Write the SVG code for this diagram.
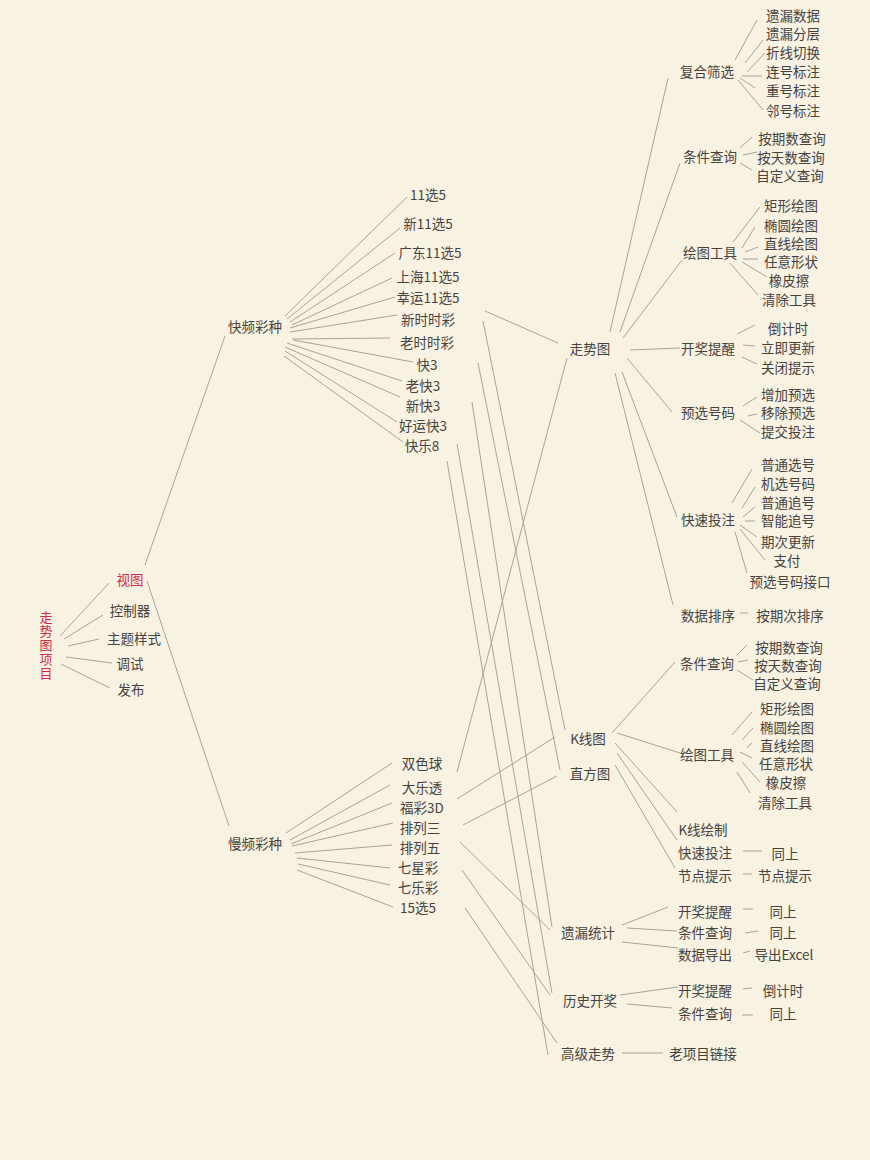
<svg xmlns="http://www.w3.org/2000/svg" width="870" height="1160" viewBox="0 0 870 1160">
<style>
text{font-family:"Noto Sans CJK SC","Liberation Sans",sans-serif;font-size:13.5px;fill:#46433f;text-anchor:middle;dominant-baseline:central}
text.r{fill:#d22a4e}
text.v{writing-mode:vertical-rl;text-anchor:start;letter-spacing:1px;font-size:13px}
#connectors line{stroke:#a7a399;stroke-width:1;fill:none}
</style>
<rect x="0" y="0" width="870" height="1160" fill="#f8f2e3"/>
<g id="connectors">
<line x1="60" y1="636" x2="109" y2="583"/>
<line x1="64" y1="639" x2="103" y2="615"/>
<line x1="68" y1="646" x2="99" y2="639"/>
<line x1="66" y1="657" x2="112" y2="663"/>
<line x1="61" y1="664" x2="110" y2="688"/>
<line x1="145" y1="565" x2="225" y2="336"/>
<line x1="147" y1="581" x2="229" y2="826"/>
<line x1="285" y1="316" x2="407" y2="197"/>
<line x1="287" y1="319" x2="400" y2="228"/>
<line x1="290" y1="322" x2="395" y2="253"/>
<line x1="292" y1="325" x2="392" y2="278"/>
<line x1="290" y1="328" x2="395" y2="297"/>
<line x1="290" y1="332" x2="397" y2="315"/>
<line x1="292" y1="339" x2="390" y2="338"/>
<line x1="293" y1="340" x2="413" y2="362"/>
<line x1="287" y1="343" x2="402" y2="381"/>
<line x1="285" y1="347" x2="400" y2="397"/>
<line x1="285" y1="351" x2="397" y2="422"/>
<line x1="284" y1="356" x2="403" y2="442"/>
<line x1="286" y1="833" x2="392" y2="763"/>
<line x1="290" y1="840" x2="390" y2="785"/>
<line x1="291" y1="844" x2="392" y2="803"/>
<line x1="292" y1="846" x2="393" y2="823"/>
<line x1="295" y1="853" x2="392" y2="845"/>
<line x1="297" y1="858" x2="390" y2="868"/>
<line x1="298" y1="864" x2="390" y2="885"/>
<line x1="297" y1="870" x2="393" y2="907"/>
<line x1="485" y1="311" x2="558" y2="343"/>
<line x1="483" y1="321" x2="565" y2="730"/>
<line x1="478" y1="363" x2="560" y2="770"/>
<line x1="472" y1="402" x2="552" y2="927"/>
<line x1="457" y1="444" x2="552" y2="993"/>
<line x1="447" y1="461" x2="548" y2="1055"/>
<line x1="457" y1="772" x2="567" y2="358"/>
<line x1="457" y1="799" x2="555" y2="737"/>
<line x1="463" y1="825" x2="557" y2="776"/>
<line x1="460" y1="842" x2="550" y2="930"/>
<line x1="462" y1="870" x2="550" y2="995"/>
<line x1="465" y1="908" x2="557" y2="1043"/>
<line x1="610" y1="332" x2="668" y2="78"/>
<line x1="620" y1="332" x2="680" y2="163"/>
<line x1="623" y1="338" x2="682" y2="260"/>
<line x1="630" y1="350" x2="680" y2="348"/>
<line x1="627" y1="358" x2="672" y2="412"/>
<line x1="622" y1="372" x2="677" y2="517"/>
<line x1="615" y1="373" x2="673" y2="605"/>
<line x1="735" y1="60" x2="757" y2="20"/>
<line x1="745" y1="63" x2="763" y2="40"/>
<line x1="747" y1="72" x2="765" y2="53"/>
<line x1="742" y1="76" x2="762" y2="76"/>
<line x1="740" y1="78" x2="755" y2="88"/>
<line x1="738" y1="80" x2="763" y2="110"/>
<line x1="740" y1="148" x2="752" y2="137"/>
<line x1="743" y1="155" x2="757" y2="152"/>
<line x1="740" y1="163" x2="752" y2="170"/>
<line x1="733" y1="242" x2="760" y2="207"/>
<line x1="742" y1="248" x2="755" y2="227"/>
<line x1="745" y1="252" x2="758" y2="247"/>
<line x1="743" y1="259" x2="758" y2="259"/>
<line x1="742" y1="262" x2="767" y2="277"/>
<line x1="730" y1="263" x2="758" y2="295"/>
<line x1="737" y1="334" x2="755" y2="325"/>
<line x1="743" y1="345" x2="755" y2="346"/>
<line x1="742" y1="357" x2="757" y2="364"/>
<line x1="743" y1="406" x2="757" y2="397"/>
<line x1="748" y1="416" x2="757" y2="414"/>
<line x1="740" y1="420" x2="760" y2="433"/>
<line x1="732" y1="503" x2="752" y2="469"/>
<line x1="742" y1="508" x2="755" y2="487"/>
<line x1="743" y1="517" x2="755" y2="507"/>
<line x1="745" y1="521" x2="755" y2="521"/>
<line x1="740" y1="525" x2="757" y2="537"/>
<line x1="740" y1="529" x2="765" y2="560"/>
<line x1="735" y1="532" x2="747" y2="573"/>
<line x1="740" y1="613" x2="748" y2="613"/>
<line x1="612" y1="733" x2="675" y2="662"/>
<line x1="617" y1="733" x2="680" y2="753"/>
<line x1="615" y1="743" x2="677" y2="812"/>
<line x1="617" y1="753" x2="677" y2="840"/>
<line x1="615" y1="765" x2="675" y2="868"/>
<line x1="737" y1="655" x2="747" y2="645"/>
<line x1="738" y1="662" x2="748" y2="660"/>
<line x1="737" y1="670" x2="753" y2="680"/>
<line x1="732" y1="735" x2="752" y2="712"/>
<line x1="742" y1="740" x2="753" y2="728"/>
<line x1="747" y1="748" x2="752" y2="743"/>
<line x1="740" y1="752" x2="752" y2="758"/>
<line x1="742" y1="762" x2="760" y2="782"/>
<line x1="737" y1="772" x2="750" y2="793"/>
<line x1="743" y1="851" x2="762" y2="851"/>
<line x1="743" y1="874" x2="752" y2="874"/>
<line x1="622" y1="925" x2="668" y2="907"/>
<line x1="627" y1="928" x2="677" y2="931"/>
<line x1="622" y1="942" x2="678" y2="948"/>
<line x1="743" y1="909" x2="753" y2="909"/>
<line x1="745" y1="933" x2="758" y2="931"/>
<line x1="743" y1="953" x2="750" y2="951"/>
<line x1="620" y1="995" x2="678" y2="987"/>
<line x1="627" y1="1004" x2="672" y2="1008"/>
<line x1="743" y1="989" x2="752" y2="988"/>
<line x1="742" y1="1015" x2="753" y2="1015"/>
<line x1="622" y1="1053" x2="663" y2="1053"/>
</g>
<g id="root"><text class="r v" x="46" y="611">走势图项目</text></g>
<g id="n-view"><text class="r" x="130" y="579">视图</text></g>
<g id="n-ctrl"><text x="130" y="610">控制器</text></g>
<g id="n-theme"><text x="134" y="638">主题样式</text></g>
<g id="n-debug"><text x="130" y="663">调试</text></g>
<g id="n-pub"><text x="131" y="689">发布</text></g>
<g id="n-fast"><text x="255" y="326">快频彩种</text></g>
<g id="n-slow"><text x="255" y="843">慢频彩种</text></g>
<g id="f1"><text x="428" y="194">11选5</text></g>
<g id="f2"><text x="428" y="223">新11选5</text></g>
<g id="f3"><text x="430" y="252">广东11选5</text></g>
<g id="f4"><text x="428" y="276">上海11选5</text></g>
<g id="f5"><text x="428" y="297">幸运11选5</text></g>
<g id="f6"><text x="428" y="319">新时时彩</text></g>
<g id="f7"><text x="427" y="342">老时时彩</text></g>
<g id="f8"><text x="427" y="364">快3</text></g>
<g id="f9"><text x="423" y="385">老快3</text></g>
<g id="f10"><text x="423" y="405">新快3</text></g>
<g id="f11"><text x="423" y="425">好运快3</text></g>
<g id="f12"><text x="422" y="445">快乐8</text></g>
<g id="s1"><text x="422" y="763">双色球</text></g>
<g id="s2"><text x="422" y="787">大乐透</text></g>
<g id="s3"><text x="422" y="807">福彩3D</text></g>
<g id="s4"><text x="420" y="827">排列三</text></g>
<g id="s5"><text x="420" y="847">排列五</text></g>
<g id="s6"><text x="418" y="867">七星彩</text></g>
<g id="s7"><text x="418" y="887">七乐彩</text></g>
<g id="s8"><text x="418" y="907">15选5</text></g>
<g id="m-trend"><text x="590" y="348">走势图</text></g>
<g id="m-kline"><text x="588" y="738">K线图</text></g>
<g id="m-hist"><text x="590" y="773">直方图</text></g>
<g id="m-miss"><text x="588" y="932">遗漏统计</text></g>
<g id="m-history"><text x="590" y="1000">历史开奖</text></g>
<g id="m-adv"><text x="588" y="1053">高级走势</text></g>
<g id="t-filter"><text x="707" y="71">复合筛选</text></g>
<g id="t-query"><text x="710" y="156">条件查询</text></g>
<g id="t-draw"><text x="710" y="252">绘图工具</text></g>
<g id="t-remind"><text x="708" y="348">开奖提醒</text></g>
<g id="t-pre"><text x="708" y="412">预选号码</text></g>
<g id="t-bet"><text x="708" y="519">快速投注</text></g>
<g id="t-sort"><text x="708" y="615">数据排序</text></g>
<g id="tf1"><text x="793" y="15">遗漏数据</text></g>
<g id="tf2"><text x="793" y="33">遗漏分层</text></g>
<g id="tf3"><text x="793" y="52">折线切换</text></g>
<g id="tf4"><text x="793" y="71">连号标注</text></g>
<g id="tf5"><text x="793" y="90">重号标注</text></g>
<g id="tf6"><text x="793" y="110">邻号标注</text></g>
<g id="tq1"><text x="792" y="138">按期数查询</text></g>
<g id="tq2"><text x="791" y="157">按天数查询</text></g>
<g id="tq3"><text x="790" y="175">自定义查询</text></g>
<g id="td1"><text x="791" y="205">矩形绘图</text></g>
<g id="td2"><text x="791" y="225">椭圆绘图</text></g>
<g id="td3"><text x="791" y="243">直线绘图</text></g>
<g id="td4"><text x="791" y="261">任意形状</text></g>
<g id="td5"><text x="789" y="280">橡皮擦</text></g>
<g id="td6"><text x="789" y="299">清除工具</text></g>
<g id="tr1"><text x="788" y="328">倒计时</text></g>
<g id="tr2"><text x="788" y="347">立即更新</text></g>
<g id="tr3"><text x="788" y="367">关闭提示</text></g>
<g id="tp1"><text x="788" y="394">增加预选</text></g>
<g id="tp2"><text x="788" y="412">移除预选</text></g>
<g id="tp3"><text x="788" y="431">提交投注</text></g>
<g id="tb1"><text x="788" y="464">普通选号</text></g>
<g id="tb2"><text x="788" y="483">机选号码</text></g>
<g id="tb3"><text x="788" y="502">普通追号</text></g>
<g id="tb4"><text x="788" y="520">智能追号</text></g>
<g id="tb5"><text x="788" y="541">期次更新</text></g>
<g id="tb6"><text x="787" y="560">支付</text></g>
<g id="tb7"><text x="790" y="581">预选号码接口</text></g>
<g id="ts1"><text x="790" y="615">按期次排序</text></g>
<g id="k-query"><text x="707" y="663">条件查询</text></g>
<g id="k-draw"><text x="707" y="754">绘图工具</text></g>
<g id="k-plot"><text x="703" y="829">K线绘制</text></g>
<g id="k-bet"><text x="705" y="852">快速投注</text></g>
<g id="k-node"><text x="705" y="875">节点提示</text></g>
<g id="kq1"><text x="789" y="647">按期数查询</text></g>
<g id="kq2"><text x="788" y="665">按天数查询</text></g>
<g id="kq3"><text x="787" y="683">自定义查询</text></g>
<g id="kd1"><text x="787" y="708">矩形绘图</text></g>
<g id="kd2"><text x="787" y="727">椭圆绘图</text></g>
<g id="kd3"><text x="787" y="745">直线绘图</text></g>
<g id="kd4"><text x="786" y="763">任意形状</text></g>
<g id="kd5"><text x="786" y="782">橡皮擦</text></g>
<g id="kd6"><text x="785" y="802">清除工具</text></g>
<g id="kb1"><text x="785" y="853">同上</text></g>
<g id="kn1"><text x="785" y="875">节点提示</text></g>
<g id="ms-remind"><text x="705" y="911">开奖提醒</text></g>
<g id="ms-query"><text x="705" y="932">条件查询</text></g>
<g id="ms-export"><text x="705" y="954">数据导出</text></g>
<g id="ms1"><text x="783" y="911">同上</text></g>
<g id="ms2"><text x="783" y="932">同上</text></g>
<g id="ms3"><text x="784" y="954">导出Excel</text></g>
<g id="h-remind"><text x="705" y="990">开奖提醒</text></g>
<g id="h-query"><text x="705" y="1013">条件查询</text></g>
<g id="h1"><text x="783" y="990">倒计时</text></g>
<g id="h2"><text x="783" y="1013">同上</text></g>
<g id="a-old"><text x="703" y="1053">老项目链接</text></g>
</svg>
